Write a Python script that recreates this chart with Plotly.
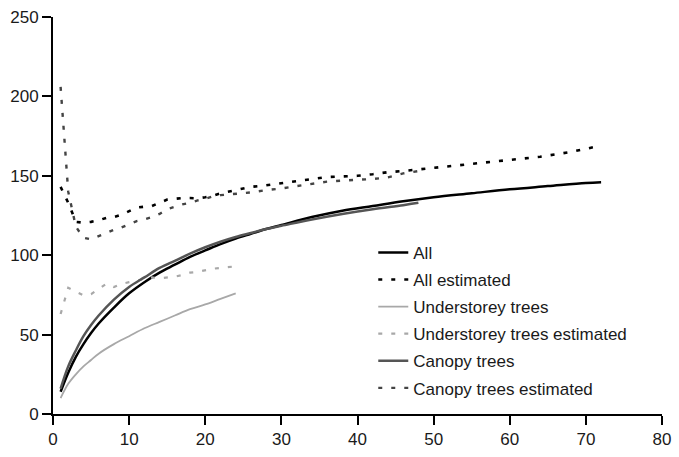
import plotly.graph_objects as go

# ---- data ----
all_x = [1, 2, 3, 4, 5, 6, 8, 10, 12, 14, 16, 18, 20, 22, 24, 26, 28, 30, 34, 38, 42, 46, 50, 55, 60, 65, 70, 72]
all_y = [14, 26, 36, 44, 51, 57, 67, 76, 83, 89, 94, 99, 103, 107, 110.5, 113.5, 116.5, 119, 124, 128, 131, 134, 136.5, 139, 141.5, 143.5, 145.5, 146]

all_est_x = [1, 2, 3, 4, 5, 6, 7, 8, 9, 10, 11, 12, 13, 14, 15, 16, 17, 18, 19, 20, 21, 22, 23, 24, 26, 28, 30, 32, 34, 36, 38, 40, 42, 44, 46, 48, 50, 52, 54, 56, 58, 60, 62, 64, 66, 68, 70, 72]
all_est_y = [143, 133, 121, 120.5, 121, 122, 123.5, 124, 125.5, 127.5, 130, 130.5, 131, 133, 135, 135.5, 136, 136, 135.8, 136.5, 137.5, 139, 140, 141, 143, 144, 145.2, 146.8, 148, 149.2, 149.6, 150, 151, 152.3, 153, 154, 155, 156, 157, 157.8, 158.6, 159.8, 161, 162, 163.5, 165, 167, 169]

und_x = [1, 2, 3, 4, 5, 6, 8, 10, 12, 14, 16, 18, 20, 22, 24]
und_y = [10, 19, 25, 30, 34, 38, 44, 49, 54, 58, 62, 66, 69, 72.5, 76]

und_est_x = [1, 2, 3, 4, 5, 6, 7, 8, 9, 10, 11, 12, 13, 14, 15, 16, 17, 18, 19, 20, 21, 22, 23, 24]
und_est_y = [63, 79.5, 77, 74.7, 75.5, 79, 82, 80, 82, 83, 84, 85, 86, 85.5, 86, 86.5, 87.5, 89, 89.5, 90.5, 91.5, 92, 92.6, 93]

can_x = [1, 2, 3, 4, 5, 6, 8, 10, 12, 14, 16, 18, 20, 22, 24, 26, 28, 30, 34, 38, 42, 46, 48]
can_y = [16, 30, 40, 49, 56, 62, 72, 80, 86, 92, 96.5, 101, 105, 108.5, 111.5, 114, 116.5, 118.5, 122.5, 126, 129, 131.5, 133]

can_est_x = [1, 2, 3, 4, 5, 6, 7, 8, 9, 10, 11, 12, 13, 14, 15, 16, 17, 18, 19, 20, 21, 22, 24, 26, 28, 30, 32, 34, 36, 38, 40, 42, 44, 46, 48]
can_est_y = [206, 140, 118, 111, 110, 112, 114.5, 116, 117.5, 119.5, 121.5, 122.5, 124, 126, 129, 130.5, 132, 133, 134.5, 135.5, 137, 137.8, 138.5, 139.5, 141, 142, 143.5, 145, 146.3, 147, 147.5, 148, 149, 151.5, 153]

x_ticks = [0, 10, 20, 30, 40, 50, 60, 70, 80]
y_ticks = [0, 50, 100, 150, 200, 250]

FONT = "Liberation Sans, Arial, Helvetica, sans-serif"
DOT = "4px,9px"

series = [
    ("All", all_x, all_y, dict(color="#000000", width=2.5), "spline"),
    ("All estimated", all_est_x, all_est_y, dict(color="#000000", width=2.6, dash=DOT), "linear"),
    ("Understorey trees", und_x, und_y, dict(color="#a8a8a8", width=1.8), "spline"),
    ("Understorey trees estimated", und_est_x, und_est_y, dict(color="#a8a8a8", width=2.2, dash=DOT), "linear"),
    ("Canopy trees", can_x, can_y, dict(color="#555555", width=2.5), "spline"),
    ("Canopy trees estimated", can_est_x, can_est_y, dict(color="#444444", width=2.4, dash=DOT), "linear"),
]

fig = go.Figure()
for i, (name, xs, ys, line, shape) in enumerate(series):
    line = dict(line)
    line["shape"] = shape
    fig.add_trace(go.Scatter(x=xs, y=ys, mode="lines", name=name, line=line,
                             legendgroup=f"g{i}"))

W, H = 679, 457
ml, mr, mt, mb = 53, 8, 13, 34
pw, ph = W - ml - mr, H - mt - mb

axis_common = dict(showline=True, linecolor="#000000", linewidth=2, ticks="outside",
                   ticklen=9, tickwidth=2, tickcolor="#000000", showgrid=False,
                   zeroline=False, ticklabeloverflow="allow",
                   tickfont=dict(family=FONT, size=17, color="#1a1a1a"))

fig.update_layout(
    width=W, height=H,
    margin=dict(l=ml, r=mr, t=mt, b=mb),
    plot_bgcolor="white", paper_bgcolor="white",
    font=dict(family=FONT, size=17, color="#1a1a1a"),
    xaxis=dict(range=[0, 80], tickvals=x_ticks, **axis_common),
    yaxis=dict(range=[0, 250], tickvals=y_ticks, **axis_common),
    legend=dict(x=(378 - ml) / pw, y=(H - mb - 238) / ph, xanchor="left", yanchor="top",
                bgcolor="rgba(0,0,0,0)", font=dict(family=FONT, size=17, color="#1a1a1a"),
                tracegroupgap=2, traceorder="grouped"),
    showlegend=True,
)

fig.write_html("out.html", config={"displayModeBar": False},
               post_script="document.body.style.margin='0';")
